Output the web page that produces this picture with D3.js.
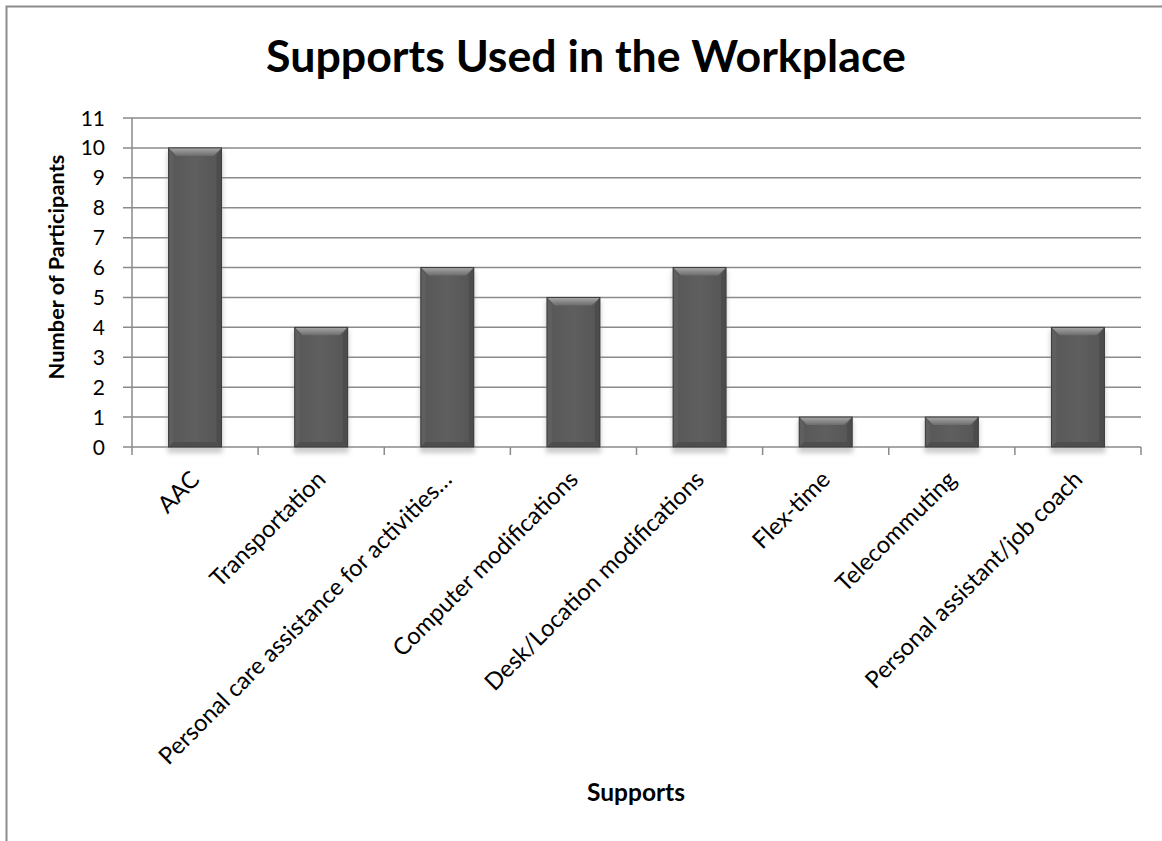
<!DOCTYPE html>
<html>
<head>
<meta charset="utf-8">
<script src="https://cdn.jsdelivr.net/npm/d3@7"></script>
<style>
  html, body { margin: 0; padding: 0; background: #fff; }
  svg { display: block; }
  text { font-family: Lato, "Open Sans", "DejaVu Sans", sans-serif; fill: #000; }
</style>
</head>
<body>
<svg id="chart" width="1162" height="841"></svg>
<script>
const categories = ["AAC", "Transportation", "Personal care assistance for activities\u2026",
  "Computer modifications", "Desk/Location modifications", "Flex-time",
  "Telecommuting", "Personal assistant/job coach"];
const values = [10, 4, 6, 5, 6, 1, 1, 4];
const yTicks = [0, 1, 2, 3, 4, 5, 6, 7, 8, 9, 10, 11];
const titleText = "Supports Used in the Workplace";
const xTitle = "Supports";
const yTitle = "Number of Participants";

const svg = d3.select("#chart");
const plot = { left: 132, right: 1141, top: 118, bottom: 447 };
const gridColor = "#8a8a8a";

// chart border
svg.append("rect").attr("x", 6.5).attr("y", 6.5).attr("width", 1180).attr("height", 900)
  .attr("fill", "none").attr("stroke", "#8c8c8c").attr("stroke-width", 2);

const x = d3.scaleBand().domain(categories).range([plot.left, plot.right]).paddingInner(0.58).paddingOuter(0.29);
const xb = d3.scaleBand().domain(categories).range([plot.left, plot.right]).padding(0);
const y = d3.scaleLinear().domain([0, 11]).range([plot.bottom, plot.top]);

const defs = svg.append("defs");
const tg = defs.append("linearGradient").attr("id", "topg").attr("x1", 0).attr("y1", 0).attr("x2", 0).attr("y2", 1);
tg.append("stop").attr("offset", "0%").attr("stop-color", "#a8a8a8");
tg.append("stop").attr("offset", "100%").attr("stop-color", "#6c6c6c");
const mg = defs.append("linearGradient").attr("id", "maing").attr("x1", 0).attr("y1", 0).attr("x2", 1).attr("y2", 0);
mg.append("stop").attr("offset", "0%").attr("stop-color", "#575757");
mg.append("stop").attr("offset", "50%").attr("stop-color", "#5f5f5f");
mg.append("stop").attr("offset", "100%").attr("stop-color", "#555");
const blur = defs.append("filter").attr("id", "shadow").attr("x", "-20%").attr("y", "-20%").attr("width", "140%").attr("height", "140%");
blur.append("feGaussianBlur").attr("stdDeviation", 2.5);

// gridlines
svg.append("g").selectAll("line").data(yTicks).join("line")
  .attr("x1", plot.left - 9).attr("x2", plot.right)
  .attr("y1", d => y(d)).attr("y2", d => y(d))
  .attr("stroke", gridColor).attr("stroke-width", 1.5);

// y axis line
svg.append("line").attr("x1", plot.left).attr("x2", plot.left)
  .attr("y1", plot.top).attr("y2", plot.bottom + 8)
  .attr("stroke", gridColor).attr("stroke-width", 1.5);

// x category tick marks (boundaries)
const bounds = categories.map(c => xb(c) + xb.bandwidth());
svg.append("g").selectAll("line").data(bounds).join("line")
  .attr("x1", d => d).attr("x2", d => d)
  .attr("y1", plot.bottom).attr("y2", plot.bottom + 8)
  .attr("stroke", gridColor).attr("stroke-width", 1.5);

// y tick labels
svg.append("g").selectAll("text").data(yTicks).join("text")
  .attr("x", 105).attr("y", d => y(d)).attr("dy", "0.36em")
  .attr("text-anchor", "end").style("font-size", "21px").text(d => d);

// bars
const bars = svg.append("g").selectAll("g").data(categories.map((c, i) => ({ c, v: values[i] }))).join("g");
bars.append("rect")
  .attr("x", d => x(d.c) - 1).attr("y", d => y(d.v) + 3)
  .attr("width", x.bandwidth() + 2).attr("height", d => y(0) - y(d.v) + 3)
  .attr("fill", "#9a9a9a").attr("opacity", 0.5).attr("filter", "url(#shadow)");
bars.append("rect")
  .attr("x", d => x(d.c)).attr("y", d => y(d.v))
  .attr("width", x.bandwidth()).attr("height", d => y(0) - y(d.v))
  .attr("fill", "url(#maing)");
const b = 8, bs = 5;
bars.append("polygon").attr("fill", "url(#topg)")
  .attr("points", d => {
    const x0 = x(d.c), x1 = x0 + x.bandwidth(), t = y(d.v);
    return [[x0, t], [x1, t], [x1 - b, t + b], [x0 + b, t + b]].map(p => p.join(",")).join(" ");
  });
bars.append("polygon").attr("fill", "#5f5f5f")
  .attr("points", d => {
    const x0 = x(d.c), t = y(d.v), bt = y(0);
    return [[x0, t], [x0 + bs, t + b], [x0 + bs, bt - bs], [x0, bt]].map(p => p.join(",")).join(" ");
  });
bars.append("polygon").attr("fill", "#4c4c4c")
  .attr("points", d => {
    const x1 = x(d.c) + x.bandwidth(), t = y(d.v), bt = y(0);
    return [[x1, t], [x1 - bs, t + b], [x1 - bs, bt - bs], [x1, bt]].map(p => p.join(",")).join(" ");
  });
bars.append("polygon").attr("fill", "#4e4e4e")
  .attr("points", d => {
    const x0 = x(d.c), x1 = x0 + x.bandwidth(), bt = y(0);
    return [[x0, bt], [x0 + bs, bt - bs], [x1 - bs, bt - bs], [x1, bt]].map(p => p.join(",")).join(" ");
  });
bars.append("rect")
  .attr("x", d => x(d.c)).attr("y", d => y(d.v))
  .attr("width", x.bandwidth()).attr("height", d => y(0) - y(d.v))
  .attr("fill", "none").attr("stroke", "#3c3c3c").attr("stroke-width", 1);

// x tick labels
function fit(sel, target) {
  const len = sel.node().getComputedTextLength();
  const fs = parseFloat(sel.style("font-size"));
  return fs * target / len;
}
const probe = svg.append("text").style("font-size", "20px").text("Transportation");
const xfs = fit(probe, 152);
probe.remove();
svg.append("g").selectAll("text").data(categories).join("text")
  .attr("transform", d => `translate(${xb(d) + xb.bandwidth() / 2 + 6},${481}) rotate(-45)`)
  .attr("text-anchor", "end").style("font-size", xfs + "px").text(d => d);

// title
const t = svg.append("text").attr("x", 586).attr("y", 72).attr("text-anchor", "middle")
  .style("font-size", "44px").style("font-weight", "bold").text(titleText);
t.style("font-size", fit(t, 640) + "px");

// x axis title
const xt = svg.append("text").attr("x", 636).attr("y", 801).attr("text-anchor", "middle")
  .style("font-size", "20px").style("font-weight", "bold").text(xTitle);
xt.style("font-size", fit(xt, 98) + "px");

// y axis title
const yt = svg.append("text").attr("transform", "translate(64,267) rotate(-90)").attr("text-anchor", "middle")
  .style("font-size", "20px").style("font-weight", "bold").text(yTitle);
yt.style("font-size", fit(yt, 225) + "px");
</script>
</body>
</html>
